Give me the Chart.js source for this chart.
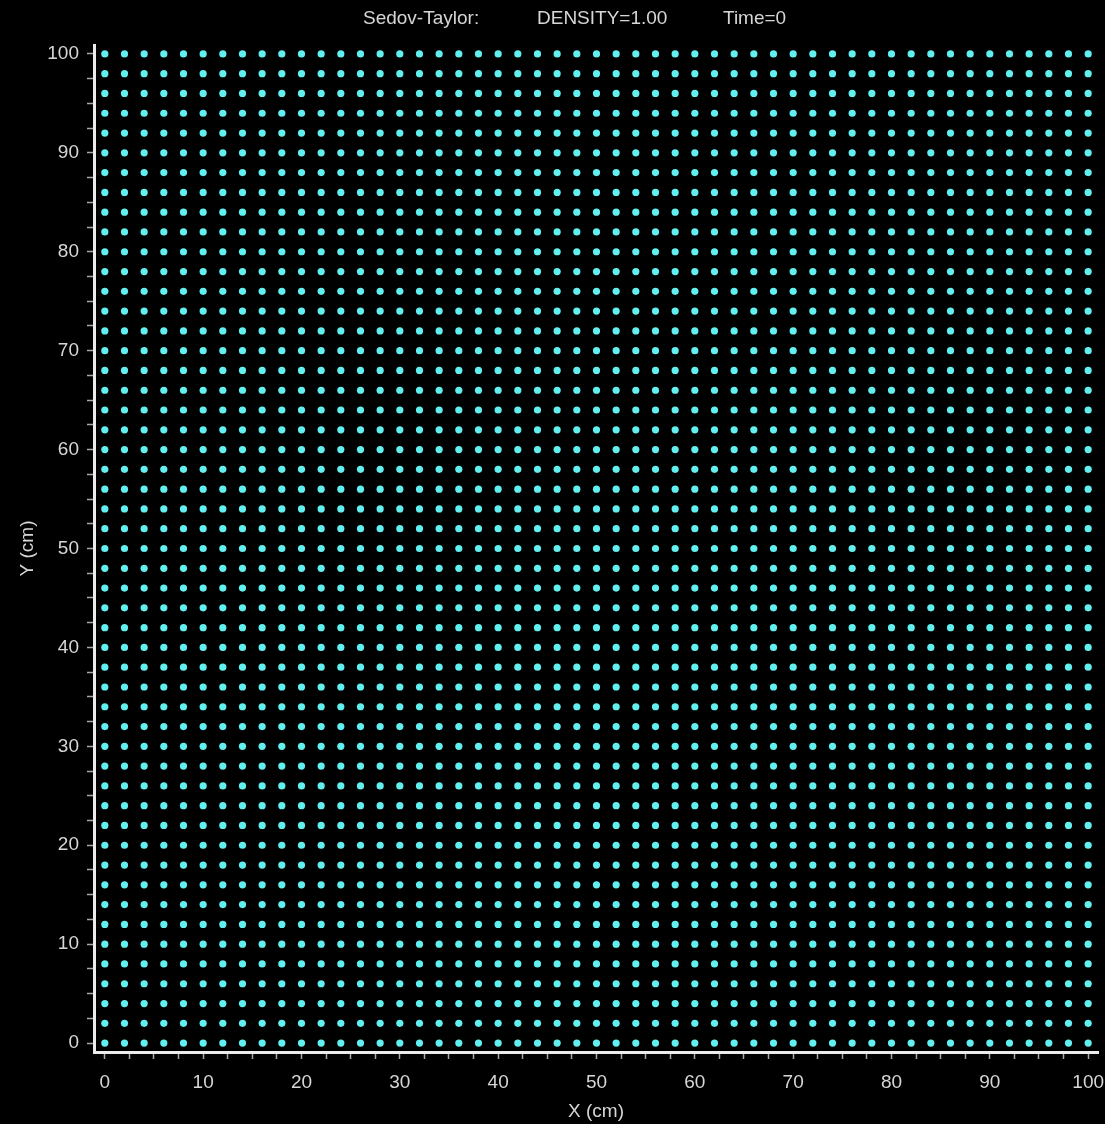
<!DOCTYPE html>
<html>
<head>
<meta charset="utf-8">
<title>Sedov-Taylor</title>
<script src="https://cdn.jsdelivr.net/npm/chart.js@4.4.1/dist/chart.umd.min.js"></script>
<style>
  html, body { margin: 0; padding: 0; background: #000; }
  #wrap { width: 1105px; height: 1124px; }
</style>
</head>
<body>
<div id="wrap"><canvas id="grid" width="1105" height="1124"></canvas></div>
<script>
// particle positions (cm) along each axis
const xNodes = [0, 2, 4, 6, 8, 10, 12, 14, 16, 18, 20, 22, 24, 26, 28, 30, 32, 34, 36, 38, 40,
  42, 44, 46, 48, 50, 52, 54, 56, 58, 60, 62, 64, 66, 68, 70, 72, 74, 76, 78, 80,
  82, 84, 86, 88, 90, 92, 94, 96, 98, 100];
const yNodes = [0, 2, 4, 6, 8, 10, 12, 14, 16, 18, 20, 22, 24, 26, 28, 30, 32, 34, 36, 38, 40,
  42, 44, 46, 48, 50, 52, 54, 56, 58, 60, 62, 64, 66, 68, 70, 72, 74, 76, 78, 80,
  82, 84, 86, 88, 90, 92, 94, 96, 98, 100];

// tick marks every 2.5, labels on the tens
const tickValues = [0, 2.5, 5, 7.5, 10, 12.5, 15, 17.5, 20, 22.5, 25, 27.5, 30, 32.5, 35, 37.5,
  40, 42.5, 45, 47.5, 50, 52.5, 55, 57.5, 60, 62.5, 65, 67.5, 70, 72.5, 75, 77.5,
  80, 82.5, 85, 87.5, 90, 92.5, 95, 97.5, 100];
const majorTicks = [0, 10, 20, 30, 40, 50, 60, 70, 80, 90, 100];
const tickLabels = ['0', '10', '20', '30', '40', '50', '60', '70', '80', '90', '100'];

const headerParts = ['Sedov-Taylor:', 'DENSITY=1.00', 'Time=0'];

const FONT = "'Liberation Sans', Arial, sans-serif";
const TEXT = '#d6d6d6';

const points = [];
yNodes.forEach(y => xNodes.forEach(x => points.push({ x: x, y: y })));

// header line above the plot
const header = {
  id: 'header',
  afterDraw(chart) {
    const ctx = chart.ctx;
    const xs = [363, 537, 723];
    ctx.save();
    ctx.fillStyle = TEXT;
    ctx.font = '19px ' + FONT;
    ctx.textBaseline = 'alphabetic';
    ctx.textAlign = 'left';
    headerParts.forEach((t, i) => ctx.fillText(t, xs[i], 24));
    ctx.restore();
  }
};

function axis(title, fit, titlePad) {
  return {
    type: 'linear',
    afterFit: fit,
    afterBuildTicks: s => { s.ticks = tickValues.map(v => ({ value: v })); },
    border: { display: true, color: '#ececec', width: 3 },
    grid: {
      drawOnChartArea: false,
      drawTicks: true,
      tickLength: 7,
      tickColor: '#a8a8a8',
      tickWidth: 1.5
    },
    ticks: {
      color: TEXT,
      font: { family: FONT, size: 19 },
      maxRotation: 0,
      autoSkip: false,
      callback: v => {
        const i = majorTicks.indexOf(v);
        return i >= 0 ? tickLabels[i] : '';
      }
    },
    title: {
      display: true,
      text: title,
      color: TEXT,
      font: { family: FONT, size: 19 },
      padding: titlePad
    }
  };
}

// fixed box sizes so the plot area sits at 94..1098 x 45..1052
const xAxis = axis('X (cm)', s => {
  s.height = 72;
  s.paddingLeft = 0;
  s.paddingRight = 0;
}, { top: 0, bottom: 1 });
xAxis.min = -1.1;
xAxis.max = 101.0;
xAxis.ticks.padding = 12;

const yAxis = axis('Y (cm)', s => {
  s.width = 94;
  s.paddingTop = 0;
  s.paddingBottom = 0;
}, { top: 16, bottom: 0 });
yAxis.min = -0.9;
yAxis.max = 100.9;
yAxis.ticks.padding = 8;

new Chart(document.getElementById('grid'), {
  type: 'scatter',
  data: {
    datasets: [{
      data: points,
      pointRadius: 3.6,
      pointBackgroundColor: '#62efef',
      pointBorderWidth: 0,
      pointHoverRadius: 3.6
    }]
  },
  options: {
    responsive: false,
    devicePixelRatio: 1,
    animation: false,
    layout: { padding: { top: 45, right: 7, left: 0, bottom: 0 } },
    plugins: {
      legend: { display: false },
      tooltip: { enabled: false }
    },
    scales: { x: xAxis, y: yAxis }
  },
  plugins: [header]
});
</script>
</body>
</html>
